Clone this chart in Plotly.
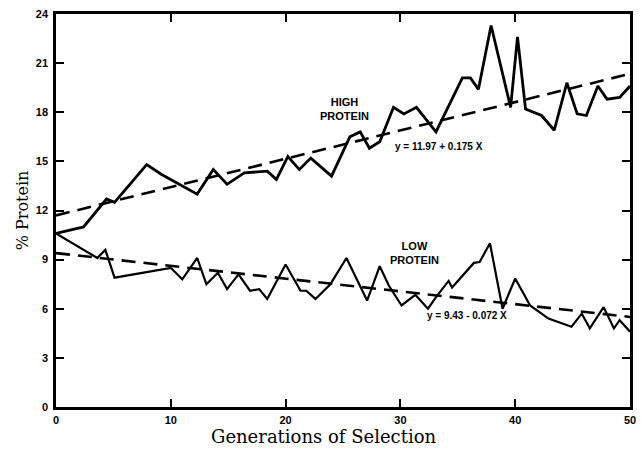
import plotly.graph_objects as go

# High protein strain
high_gen = [0, 2.4, 4.4, 5.1, 7.9, 9.2, 12.3, 13.7, 14.9, 16.4, 18.4, 19.2, 20.2, 21.2, 22.2,
            24.0, 25.6, 26.5, 27.3, 28.2, 29.4, 30.3, 31.4, 33.1, 35.4, 36.1, 36.8, 37.9,
            39.6, 40.2, 40.9, 42.3, 43.4, 44.5, 45.4, 46.2, 47.2, 48.0, 49.1, 50]
high_val = [10.6, 11.0, 12.7, 12.5, 14.8, 14.2, 13.0, 14.5, 13.6, 14.3, 14.4, 13.9, 15.3, 14.5, 15.2,
            14.1, 16.5, 16.8, 15.8, 16.2, 18.3, 17.9, 18.3, 16.8, 20.1, 20.1, 19.4, 23.3,
            18.3, 22.6, 18.2, 17.8, 16.9, 19.8, 17.9, 17.8, 19.6, 18.8, 18.9, 19.6]

# Low protein strain
low_gen = [0, 3.6, 4.3, 5.1, 10.0, 11.0, 12.3, 13.1, 14.1, 14.9, 15.9, 16.9, 17.7, 18.4, 20.0,
           21.3, 21.8, 22.6, 23.9, 25.3, 27.1, 28.2, 29.0, 30.1, 31.3, 32.4, 33.2, 34.2, 34.5,
           36.4, 36.9, 37.8, 38.9, 40.0, 41.3, 42.9, 44.9, 45.8, 46.5, 47.7, 48.6, 49.1, 50]
low_val = [10.6, 9.1, 9.6, 7.9, 8.5, 7.8, 9.1, 7.5, 8.2, 7.2, 8.1, 7.1, 7.2, 6.6, 8.7,
           7.1, 7.1, 6.6, 7.5, 9.1, 6.5, 8.6, 7.4, 6.2, 6.85, 6.0, 6.8, 7.7, 7.3,
           8.8, 8.85, 10.0, 6.0, 7.85, 6.2, 5.4, 4.9, 5.7, 4.8, 6.1, 4.8, 5.3, 4.6]

# Regression lines (as drawn)
fit_gen = [0, 50]
high_fit = [11.7, 20.35]
low_fit = [9.4, 5.5]

x_ticks = [0, 10, 20, 30, 40, 50]
y_ticks = [0, 3, 6, 9, 12, 15, 18, 21, 24]

fig = go.Figure()
dash_style = dict(color="black", width=2.6, dash="14px,8px")

fig.add_trace(go.Scatter(x=high_gen, y=high_val, mode="lines", line=dict(color="black", width=2.8)))
fig.add_trace(go.Scatter(x=low_gen, y=low_val, mode="lines", line=dict(color="black", width=2.2)))
fig.add_trace(go.Scatter(x=fit_gen, y=high_fit, mode="lines", line=dash_style))
fig.add_trace(go.Scatter(x=fit_gen, y=low_fit, mode="lines", line=dash_style))

lab_font = dict(family="Liberation Sans", size=11, color="black", weight="bold")
fig.add_annotation(x=25.1, y=18.2, text="HIGH<br>PROTEIN", showarrow=False, font=lab_font,
                   align="center")
fig.add_annotation(x=31.2, y=9.4, text="LOW<br>PROTEIN", showarrow=False, font=lab_font,
                   align="center")
eq_font = dict(family="Liberation Sans", size=10, color="black", weight="bold")
fig.add_annotation(x=33.4, y=15.9, text="y = 11.97 + 0.175 X", showarrow=False, font=eq_font)
fig.add_annotation(x=35.8, y=5.6, text="y = 9.43 - 0.072 X", showarrow=False, font=eq_font)

# x-axis title (placed slightly left of centre as in the original)
fig.add_annotation(xref="paper", yref="paper", x=0.467, y=-0.076, xanchor="center",
                   yanchor="middle", showarrow=False, text="Generations of Selection",
                   font=dict(family="DejaVu Serif", size=18, color="black"))

axis_common = dict(
    showgrid=False, zeroline=False, showline=True, linecolor="black", linewidth=2.5,
    mirror="ticks", ticks="inside", ticklen=8, tickwidth=2, tickcolor="black",
    tickfont=dict(family="Liberation Sans", size=11, color="black", weight="bold"),
)

fig.update_xaxes(range=[0, 50], tickvals=x_ticks, ticklabelstandoff=1, **axis_common)
fig.update_yaxes(range=[0, 24], tickvals=y_ticks, ticklabelstandoff=3,
                 title=dict(text="% Protein",
                            font=dict(family="DejaVu Serif", size=16, color="black"),
                            standoff=4),
                 **axis_common)

fig.update_layout(
    width=644, height=449,
    margin=dict(l=56, r=8, t=13, b=42),
    paper_bgcolor="white", plot_bgcolor="white",
    showlegend=False,
)

fig.write_html("out.html")
